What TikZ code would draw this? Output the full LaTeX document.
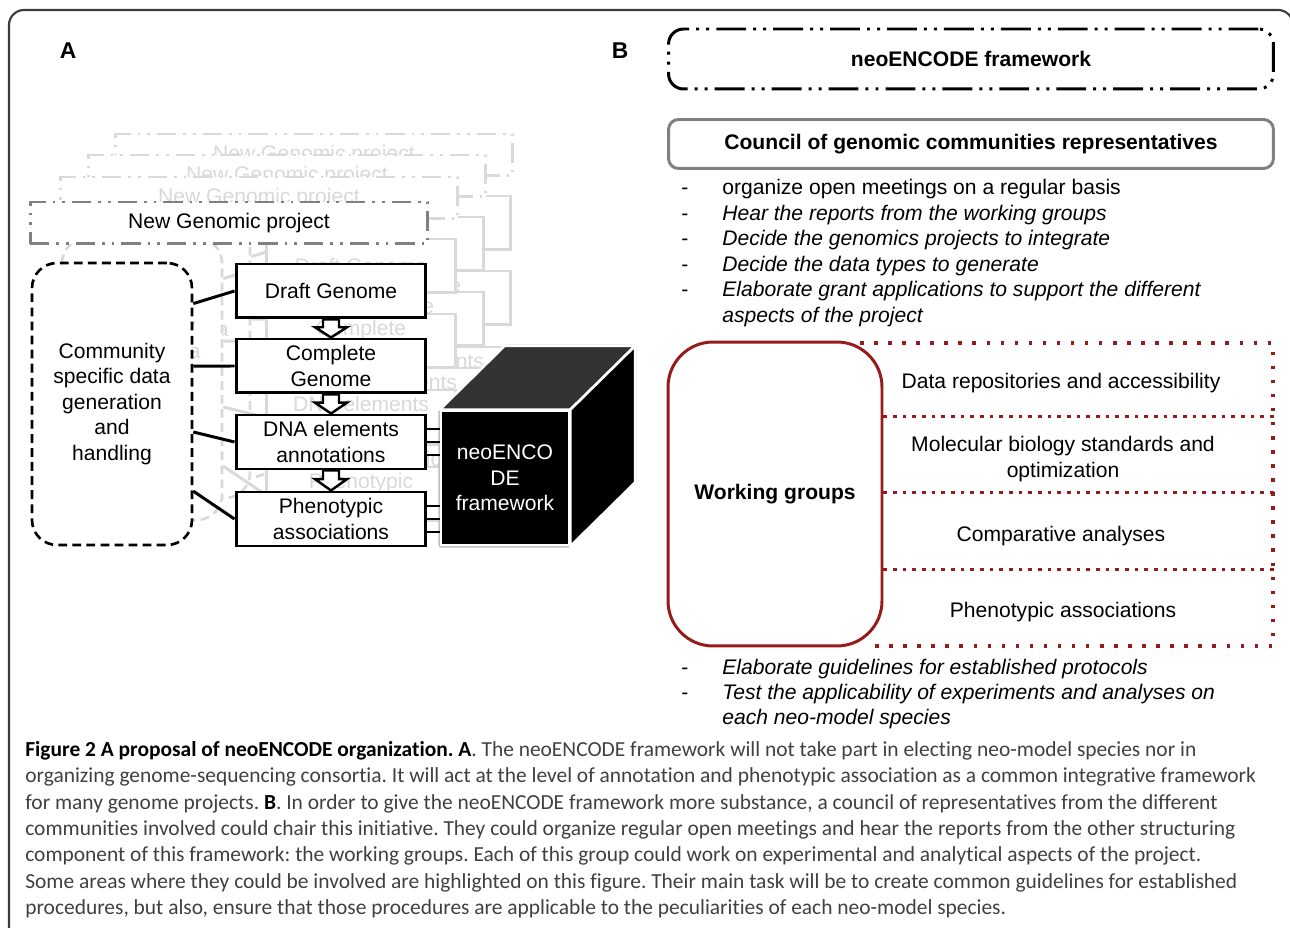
\documentclass[tikz,border=0pt]{standalone}
\usepackage{fontspec}
\setmainfont{Liberation Sans}
\newfontfamily\capfont[Ligatures=NoCommon]{Carlito}
\usetikzlibrary{calc, positioning}
\definecolor{fadegray}{RGB}{217, 217, 217}
\definecolor{gengray}{RGB}{128, 128, 128}
\definecolor{wgred}{RGB}{150, 28, 28}
\definecolor{cubetop}{RGB}{51, 51, 51}
\definecolor{framegray}{RGB}{60, 60, 60}
\definecolor{captext}{RGB}{64, 64, 64}

% hollow block arrow between two stacked boxes
\newcommand{\blockarrow}[3]{%
  \draw[hollow, draw=#3] ($(#1.south)+(-8,0)$) -- ($(#1.south)!0.43!(#2.north)+(-8,0)$)
    -- ($(#1.south)!0.43!(#2.north)+(-16,0)$) -- (#2.north)
    -- ($(#1.south)!0.43!(#2.north)+(16,0)$) -- ($(#1.south)!0.43!(#2.north)+(8,0)$)
    -- ($(#1.south)+(8,0)$) -- cycle;}

% one layer of panel A (tag, colour, frame colour, shift)
\newcommand{\layerA}[4]{%
  \begin{scope}[shift={#4}]
    \node[genbox, draw=#3, text=#2] (gen#1) at (229,223) {New Genomic project};
    \node[commbox, draw=#2, text=#2] (comm#1) at (112,404) {Community\\specific data\\generation\\and\\handling};
    \node[stepbox, draw=#2, text=#2] (draft#1) at (331,291) {Draft Genome};
    \node[stepbox, draw=#2, text=#2] (complete#1) at (331,366) {Complete\\Genome};
    \node[stepbox, draw=#2, text=#2] (dna#1) at (331,442) {DNA elements\\annotations};
    \node[stepbox, draw=#2, text=#2] (pheno#1) at (331,519) {Phenotypic\\associations};
    \draw[link, draw=#2] (comm#1.51) -- (draft#1.west);
    \draw[link, draw=#2] (comm#1.25) -- (complete#1.west);
    \draw[link, draw=#2] (comm#1.-19) -- (dna#1.west);
    \draw[link, draw=#2] (comm#1.-47) -- (pheno#1.west);
    \blockarrow{draft#1}{complete#1}{#2}
    \blockarrow{complete#1}{dna#1}{#2}
    \blockarrow{dna#1}{pheno#1}{#2}
  \end{scope}}

\begin{document}
\begin{tikzpicture}[
    x=0.02cm, y=-0.02cm,
    font=\fontsize{12}{14.5}\selectfont,
    stepbox/.style={draw, fill=white, line width=1.7pt, minimum width=3.8cm, minimum height=1.08cm, align=center, inner sep=1pt},
    commbox/.style={draw, fill=white, line width=1.5pt, dash pattern=on 5pt off 3pt, rounded corners=0.5cm, minimum width=3.2cm, minimum height=5.64cm, align=center},
    genbox/.style={draw, fill=white, line width=1.7pt, dash pattern=on 11pt off 4pt on 1.5pt off 4pt on 1.5pt off 4pt, minimum width=7.96cm, minimum height=0.84cm},
    link/.style={line width=1.7pt},
    hollow/.style={fill=white, line width=1.4pt, line join=miter},
    cubefront/.style={fill=black, draw=white, line width=1.5pt, text=white, minimum width=2.56cm, minimum height=2.68cm, align=center},
    cubeface/.style={draw=white, line width=1.5pt, line join=round},
    panellabel/.style={font=\fontsize{13}{15}\selectfont\bfseries},
    fwbox/.style={draw, line width=1.7pt, dash pattern=on 17pt off 4pt on 1.7pt off 4pt on 1.7pt off 4pt, rounded corners=0.3cm, minimum width=12.1cm, minimum height=1.2cm, font=\fontsize{12}{14.5}\selectfont\bfseries},
    council/.style={draw=gengray, line width=1.7pt, rounded corners=0.2cm, minimum width=12.1cm, minimum height=0.98cm, font=\fontsize{12}{14.5}\selectfont\bfseries},
    wgbox/.style={draw=wgred, line width=1.7pt, rounded corners=0.9cm, minimum width=4.28cm, minimum height=6.08cm, font=\fontsize{12}{14.5}\selectfont\bfseries},
    dotframe/.style={wgred, line width=2pt, dash pattern=on 2pt off 6pt},
    dotdiv/.style={wgred, line width=2pt, dash pattern=on 2pt off 3.5pt},
    topic/.style={align=center},
    bullets/.style={anchor=base west, inner sep=0},
    caption/.style={anchor=north west, inner sep=0, align=left, text=captext, font=\capfont\fontsize{12.2}{15}\selectfont\frenchspacing},
    frame/.style={draw=framegray, line width=1.2pt, rounded corners=0.3cm}
]
\useasboundingbox (0,0) rectangle (1290,928);

% Outer frame
\draw[frame] (9,960) |- (1293,10) -- (1293,60);

% Panel labels
\node[panellabel] (labA) at (68,51) {A};
\node[panellabel] (labB) at (620,51) {B};

% Panel A: faded stack of projects, then the front one
\layerA{f3}{fadegray}{fadegray}{(85,-68)}
\layerA{f2}{fadegray}{fadegray}{(58,-47)}
\layerA{f1}{fadegray}{fadegray}{(30,-25)}
\layerA{}{black}{gengray}{(0,0)}

% neoENCODE cube
\draw[draw=black!25, line width=3pt, line join=round] (441,411) -- (506,347) -- (634,347) -- (634,481) -- (569,545) -- (441,545) -- cycle;
\node[cubefront] (cube) at (505,478) {neoENCO\\DE\\framework};
\draw[cubeface, fill=cubetop] (cube.north west) -- ($(cube.north west)+(65,-64)$) -- ($(cube.north east)+(65,-64)$) -- (cube.north east) -- cycle;
\draw[cubeface, fill=black] (cube.north east) -- ($(cube.north east)+(65,-64)$) -- ($(cube.south east)+(65,-64)$) -- (cube.south east) -- cycle;

% Plugs into the cube
\foreach \d in {-13,0,13} {
  \draw[link] ($(dna.east)+(0,\d)$) -- ($(cube.west|-dna.east)+(0,\d)$);
  \draw[link] ($(pheno.east)+(0,\d)$) -- ($(cube.west|-pheno.east)+(0,\d)$);
}

% Panel B
\node[fwbox] (fw) at (971,59) {neoENCODE framework};
\node[council] (council) at (971,144) {Council of genomic communities representatives};

\node[bullets] (tasks) at (681,195) {\begin{tabular}[t]{@{}p{0.82cm}@{}l@{}}
- & organize open meetings on a regular basis\\
- & \textit{Hear the reports from the working groups}\\
- & \textit{Decide the genomics projects to integrate}\\
- & \textit{Decide the data types to generate}\\
- & \textit{Elaborate grant applications to support the different}\\
  & \textit{aspects of the project}
\end{tabular}};

% Working groups
\draw[dotframe] (860,343) -- (1273,343) -- (1273,646) -- (868,646);
\node[wgbox] (wg) at (775,494) {Working groups};
\foreach \y in {76,152,229}
  \draw[dotdiv] ($(wg.north east)+(0,\y)$) -- ++(391,0);

\node[topic] (t1) at (1061,383) {Data repositories and accessibility};
\node[topic] (t2) at (1063,459) {Molecular biology standards and\\optimization};
\node[topic] (t3) at (1061,536) {Comparative analyses};
\node[topic] (t4) at (1063,612) {Phenotypic associations};

\node[bullets] (guides) at (681,674) {\begin{tabular}[t]{@{}p{0.82cm}@{}l@{}}
- & \textit{Elaborate guidelines for established protocols}\\
- & \textit{Test the applicability of experiments and analyses on}\\
  & \textit{each neo-model species}
\end{tabular}};

% Caption
\node[caption] (cap) at (25,741) {%
{\color{black}\bfseries Figure 2 A proposal of neoENCODE organization. A}. The neoENCODE framework will not take part in electing neo-model species nor in\\
organizing genome-sequencing consortia. It will act at the level of annotation and phenotypic association as a common integrative framework\\
for many genome projects. {\color{black}\bfseries B}. In order to give the neoENCODE framework more substance, a council of representatives from the different\\
communities involved could chair this initiative. They could organize regular open meetings and hear the reports from the other structuring\\
component of this framework: the working groups. Each of this group could work on experimental and analytical aspects of the project.\\
Some areas where they could be involved are highlighted on this figure. Their main task will be to create common guidelines for established\\
procedures, but also, ensure that those procedures are applicable to the peculiarities of each neo-model species.};

\end{tikzpicture}
\end{document}
